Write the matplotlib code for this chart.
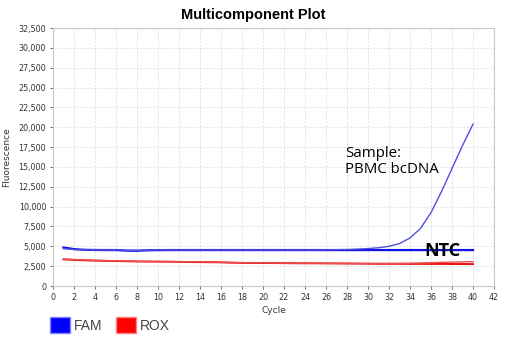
import numpy as np
import matplotlib.pyplot as plt
from matplotlib.patches import Patch

cycles = list(range(1, 41))

# FAM, sample (PBMC bcDNA) - amplifies
fam_sample = [4700, 4600, 4560, 4550, 4550, 4550, 4500, 4480, 4520, 4550,
              4550, 4550, 4550, 4550, 4550, 4550, 4550, 4550, 4550, 4550,
              4550, 4550, 4550, 4550, 4550, 4560, 4580, 4600, 4650, 4720,
              4820, 5000, 5350, 6050, 7250, 9250, 11900, 14800, 17700, 20400]
# FAM, NTC - flat
fam_ntc = [4850, 4650, 4560, 4540, 4530, 4530, 4460, 4440, 4500, 4520,
           4530, 4530, 4530, 4530, 4530, 4530, 4530, 4530, 4530, 4530,
           4530, 4530, 4530, 4530, 4530, 4530, 4530, 4530, 4530, 4530,
           4530, 4530, 4530, 4530, 4530, 4530, 4530, 4530, 4530, 4530]
# ROX passive reference
rox_sample = [3400, 3330, 3280, 3240, 3200, 3170, 3140, 3110, 3100, 3090,
              3080, 3060, 3040, 3060, 3030, 3000, 2960, 2930, 2920, 2920,
              2910, 2900, 2880, 2880, 2880, 2870, 2860, 2850, 2840, 2830,
              2830, 2830, 2840, 2870, 2900, 2940, 2980, 3010, 3040, 3070]
rox_ntc = [3350, 3290, 3240, 3200, 3170, 3150, 3120, 3090, 3080, 3070,
           3060, 3040, 3020, 3010, 3000, 2980, 2940, 2910, 2900, 2900,
           2890, 2880, 2870, 2860, 2860, 2850, 2840, 2830, 2820, 2810,
           2800, 2800, 2800, 2790, 2790, 2780, 2780, 2770, 2770, 2760]

fig = plt.figure(figsize=(5.06, 3.42), dpi=100)
ax = fig.add_axes([0.1047, 0.1637, 0.8716, 0.7543])

ax.plot(cycles, fam_ntc, color='#1010e8', lw=1.6)
ax.plot(cycles, fam_sample, color='#5050e0', lw=1.0)
ax.plot(cycles, rox_ntc, color='#e81010', lw=1.4)
ax.plot(cycles, rox_sample, color='#ee5050', lw=1.0)

ax.set_xlim(0, 42)
ax.set_ylim(0, 32500)
ax.set_xticks(range(0, 43, 2))
ax.set_yticks(range(0, 32501, 2500))
ax.set_yticklabels([f'{v:,}' for v in range(0, 32501, 2500)])
ax.tick_params(labelsize=5.8, colors='#333333', length=2, width=0.5, pad=3)
ax.grid(True, color='#d8d8d8', linestyle=(0, (2, 2)), lw=0.6)
for s in ax.spines.values():
    s.set_color('#c8c8c8')
    s.set_linewidth(0.8)

ax.set_xlabel('Cycle', fontsize=6.5, color='#333333', labelpad=3)
ax.set_ylabel('Fluorescence', fontsize=6.5, color='#333333', labelpad=5)
fig.text(0.5, 0.955, 'Multicomponent Plot', ha='center', va='center',
         fontsize=10.5, fontweight='bold', family='Liberation Sans')

ax.text(27.8, 13750, 'Sample:\nPBMC bcDNA', fontsize=10.8, family='Open Sans',
        va='bottom', ha='left', linespacing=1.1)
ax.text(35.4, 3250, 'NTC', fontsize=13, fontweight='bold', family='Open Sans',
        va='bottom', ha='left')

handles = [Patch(facecolor='#0000ff', edgecolor='#8080ff', label='FAM'),
           Patch(facecolor='#ff0000', edgecolor='#ff8080', label='ROX')]
leg = fig.legend(handles=handles, loc='lower left', bbox_to_anchor=(0.074, -0.01),
                 ncol=2, frameon=False, handlelength=1.45, handleheight=1.4,
                 handletextpad=0.3, columnspacing=0.95,
                 prop={'family': 'Liberation Sans', 'size': 10})
for t in leg.get_texts():
    t.set_color('#444444')

fig.savefig('out.png', dpi=100)
